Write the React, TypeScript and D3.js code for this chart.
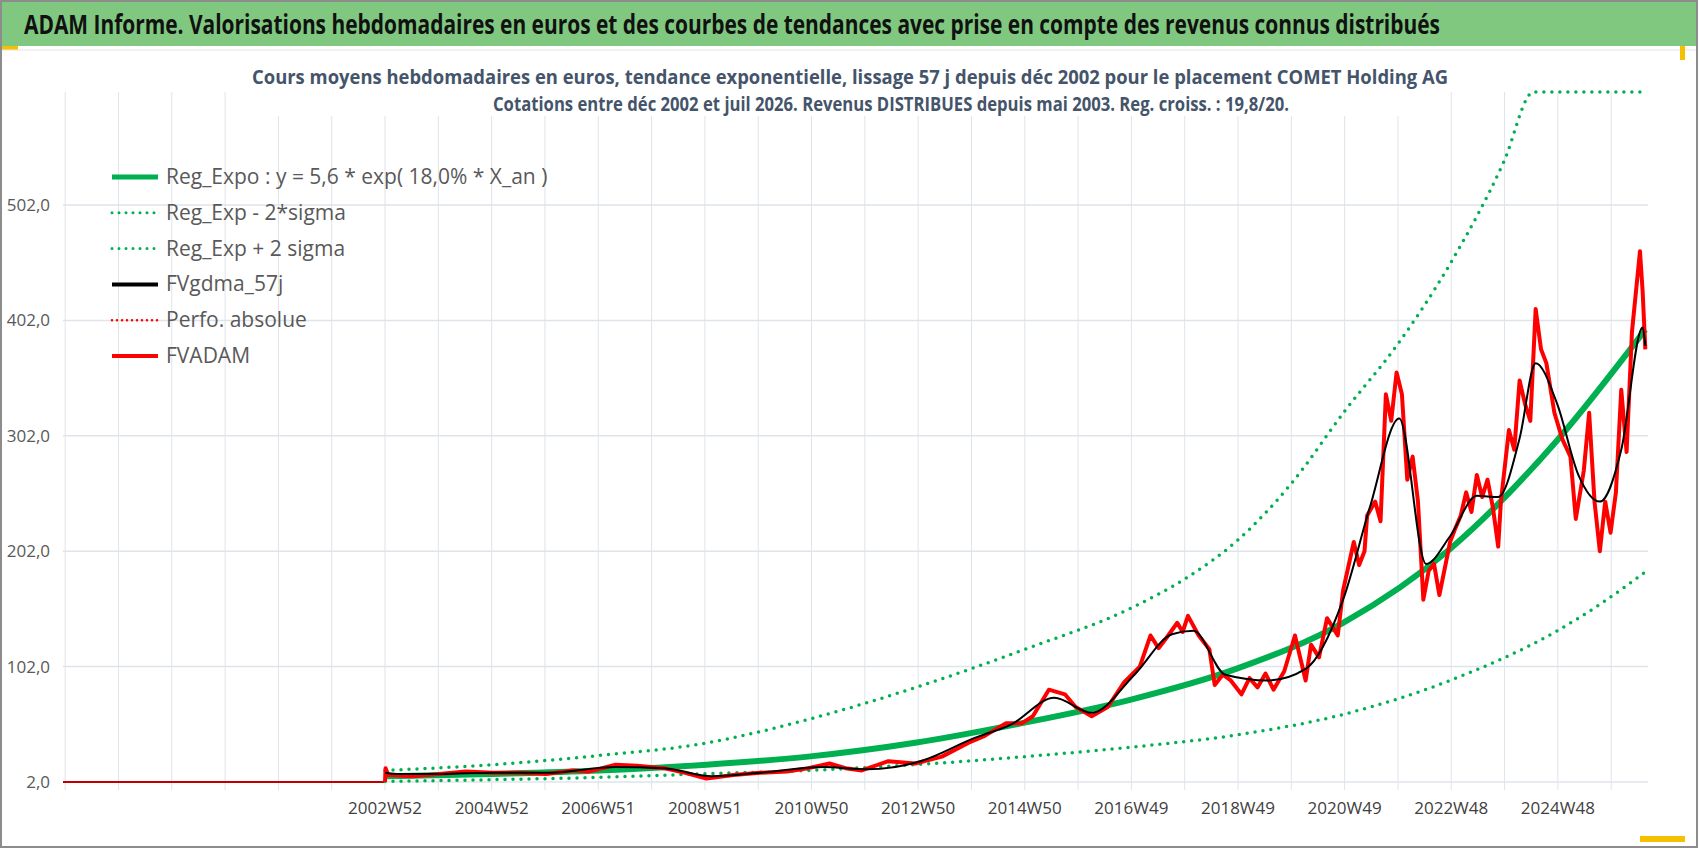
import * as d3 from 'd3'

// time in decimal years, values in euros
const redT = [2002.99, 2003.0, 2003.05, 2003.5, 2004.0, 2004.5, 2005.0, 2005.5, 2006.0, 2006.5, 2006.8, 2007.3, 2007.7, 2008.2, 2008.6, 2009.0, 2009.5, 2010.0, 2010.5, 2010.9, 2011.3, 2011.6, 2011.9, 2012.4, 2012.9, 2013.4, 2013.9, 2014.2, 2014.6, 2014.9, 2015.1, 2015.4, 2015.7, 2015.9, 2016.2, 2016.5, 2016.8, 2017.1, 2017.3, 2017.45, 2017.6, 2017.8, 2017.9, 2018.0, 2018.2, 2018.4, 2018.5, 2018.65, 2018.8, 2019.0, 2019.15, 2019.3, 2019.45, 2019.6, 2019.8, 2020.0, 2020.2, 2020.3, 2020.45, 2020.6, 2020.8, 2020.9, 2021.1, 2021.2, 2021.3, 2021.35, 2021.5, 2021.6, 2021.7, 2021.8, 2021.9, 2022.0, 2022.1, 2022.2, 2022.3, 2022.4, 2022.5, 2022.6, 2022.7, 2022.9, 2023.0, 2023.1, 2023.2, 2023.3, 2023.4, 2023.5, 2023.6, 2023.7, 2023.8, 2023.85, 2024.0, 2024.1, 2024.2, 2024.3, 2024.4, 2024.5, 2024.6, 2024.7, 2024.85, 2025.0, 2025.15, 2025.25, 2025.4, 2025.5, 2025.6, 2025.7, 2025.8, 2025.9, 2026.0, 2026.1, 2026.2, 2026.3, 2026.45, 2026.5, 2026.55]
const redV = [2, 14, 8, 7, 9, 11, 10, 10, 9, 12, 11, 17, 16, 14, 10, 5, 8, 10, 11, 14, 18, 14, 12, 20, 18, 24, 36, 42, 53, 53, 59, 82, 78, 67, 59, 67, 88, 102, 129, 118, 127, 140, 132, 146, 129, 117, 86, 95, 90, 78, 92, 84, 96, 82, 98, 129, 90, 121, 110, 144, 129, 168, 210, 190, 202, 233, 245, 228, 338, 315, 357, 338, 264, 284, 245, 160, 185, 191, 164, 210, 222, 233, 253, 236, 268, 249, 264, 240, 206, 245, 307, 290, 350, 330, 315, 412, 377, 365, 322, 299, 284, 230, 272, 322, 245, 202, 245, 218, 253, 342, 288, 392, 462, 427, 377]

const blackT = [2002.99, 2003.2, 2004.0, 2005.0, 2006.0, 2007.3, 2008.2, 2009.1, 2010.0, 2011.2, 2012.0, 2013.0, 2014.0, 2014.7, 2015.5, 2016.2, 2017.0, 2017.7, 2018.1, 2018.7, 2019.5, 2020.2, 2020.9, 2021.4, 2021.95, 2022.45, 2022.9, 2023.4, 2023.8, 2024.2, 2024.5, 2024.9, 2025.3, 2025.7, 2026.1, 2026.5, 2026.55]
const blackV = [10, 9, 9, 10, 10, 15, 14, 7, 10, 15, 13, 20, 40, 52, 75, 62, 95, 130, 133, 95, 90, 100, 160, 240, 317, 191, 215, 250, 249, 300, 365, 330, 268, 245, 290, 396, 380]

const regT = [2002.99, 2005.0, 2007.0, 2009.0, 2010.9, 2012.9, 2014.9, 2016.9, 2018.9, 2020.9, 2022.9, 2024.9, 2026.55]
const regV = [7, 9, 12, 17, 24, 36, 53, 73, 100, 140, 204, 298, 394]
const upperT = [2002.99, 2005.0, 2007.0, 2008.9, 2010.96, 2012.98, 2014.95, 2016.95, 2017.94, 2018.94, 2019.92, 2020.94, 2021.93, 2022.9, 2023.9, 2024.46, 2026.55]
const upperV = [12, 17, 25, 35, 57, 85, 117, 153, 178, 212, 260, 324, 382, 451, 539, 600, 600]
const lowerT = [2002.99, 2005.0, 2007.0, 2008.9, 2010.9, 2012.9, 2014.95, 2016.9, 2018.94, 2020.94, 2022.9, 2024.9, 2025.67, 2026.55]
const lowerV = [2.5, 4, 6, 9, 12, 17, 24, 32, 43, 61, 90, 133, 155, 184]
const perfoT = [1996.97, 2002.99]
const perfoV = [2, 2]

const xTickLabels = ['2002W52', '2004W52', '2006W51', '2008W51', '2010W50', '2012W50', '2014W50', '2016W49', '2018W49', '2020W49', '2022W48', '2024W48']
const yTicks = [2, 102, 202, 302, 402, 502]

const legendItems = [
  { label: 'Reg_Expo : y = 5,6 * exp( 18,0% *  X_an )', color: '#00b050', w: 5, dash: '' },
  { label: 'Reg_Exp - 2*sigma', color: '#00b050', w: 3, dash: '0 7' },
  { label: 'Reg_Exp + 2 sigma', color: '#00b050', w: 3, dash: '0 7' },
  { label: 'FVgdma_57j', color: '#000000', w: 4, dash: '' },
  { label: 'Perfo. absolue', color: '#ff0000', w: 2.5, dash: '0 5' },
  { label: 'FVADAM', color: '#ff0000', w: 4, dash: '' },
]

const W = 1698
const H = 848
const font = "'Liberation Sans Narrow', 'Open Sans', sans-serif"

export default function App() {
  const x = d3.scaleLinear().domain([1996.97, 2026.6]).range([63, 1648])
  const y = d3.scaleLinear().domain([2, 600]).range([782, 92])
  const line = d3.line<[number, number]>().x(d => x(d[0])).y(d => y(d[1]))
  const zip = (t: number[], v: number[]) => t.map((tt, i) => [tt, v[i]] as [number, number])
  const grid = d3.range(-6, 24).map(k => 2002.99 + k * 0.9966)
  const smooth = line.curve(d3.curveMonotoneX)
  const dotted = { fill: 'none', stroke: '#00b050', strokeWidth: 3.5, strokeDasharray: '0 8', strokeLinecap: 'round' as const }

  return (
    <svg width={W} height={H} style={{ position: 'absolute', left: 0, top: 0 }}>
      <rect x={0} y={0} width={W} height={H} fill="#fff" />
      <rect x={1} y={1} width={W - 2} height={H - 2} fill="none" stroke="#8c8c8c" strokeWidth={2} />
      <rect x={2} y={2} width={W - 4} height={44} fill="#80c880" />
      <text x={24} y={34} fontFamily={font} fontWeight="bold" fontSize={26} fill="#111"
        textLength={1416} lengthAdjust="spacingAndGlyphs">
        ADAM Informe. Valorisations hebdomadaires en euros et des courbes de tendances avec prise en compte des revenus connus distribués
      </text>
      <rect x={2} y={46} width={16} height={4} fill="#f5c000" />
      <line x1={2} y1={50} x2={W - 2} y2={50} stroke="#e5e5e5" />
      <rect x={1680} y={46} width={5} height={14} fill="#f5c000" />
      <rect x={1640} y={836} width={45} height={6} fill="#f5c000" />

      {grid.map((g, i) => (
        <line key={i} x1={x(g)} x2={x(g)} y1={92} y2={790} stroke="#dfe3ea" />
      ))}
      {yTicks.map(t => (
        <g key={t}>
          <line x1={63} x2={1648} y1={y(t)} y2={y(t)} stroke="#dfe3ea" strokeWidth={1.5} />
          <text x={50} y={y(t) + 6} textAnchor="end" fontFamily={font} fontSize={17} fill="#595959">
            {t.toFixed(1).replace('.', ',')}
          </text>
        </g>
      ))}
      {xTickLabels.map((l, i) => (
        <text key={l} x={x(2002.99 + i * 2 * 0.9966)} y={814} textAnchor="middle" fontFamily={font} fontSize={17} fill="#404040">{l}</text>
      ))}

      <rect x={245} y={62} width={1205} height={54} fill="#fff" />
      <text x={850} y={84} textAnchor="middle" fontFamily={font} fontWeight="bold" fontSize={20} fill="#44546a"
        textLength={1196} lengthAdjust="spacingAndGlyphs">
        Cours moyens hebdomadaires en euros, tendance exponentielle, lissage 57 j depuis déc 2002 pour le placement COMET Holding AG
      </text>
      <text x={891} y={111} textAnchor="middle" fontFamily={font} fontWeight="bold" fontSize={20} fill="#44546a"
        textLength={796} lengthAdjust="spacingAndGlyphs">
        Cotations entre déc 2002 et juil 2026. Revenus DISTRIBUES depuis mai 2003. Reg. croiss. : 19,8/20.
      </text>

      <path d={line(zip(perfoT, perfoV)) || ''} fill="none" stroke="#c00000" strokeWidth={2} />
      <path d={smooth(zip(lowerT, lowerV)) || ''} {...dotted} />
      <path d={smooth(zip(upperT, upperV)) || ''} {...dotted} />
      <path d={smooth(zip(regT, regV)) || ''} fill="none" stroke="#00b050" strokeWidth={6} />
      <path d={line.curve(d3.curveLinear)(zip(redT, redV)) || ''} fill="none" stroke="#ff0000" strokeWidth={4} strokeLinejoin="round" />
      <path d={line.curve(d3.curveMonotoneX)(zip(blackT, blackV)) || ''} fill="none" stroke="#000" strokeWidth={2} />

      {legendItems.map((it, i) => {
        const ly = 177 + i * 35.8
        return (
          <g key={it.label}>
            <line x1={112} x2={158} y1={ly} y2={ly} stroke={it.color} strokeWidth={it.w}
              strokeDasharray={it.dash || undefined} strokeLinecap={it.dash ? 'round' : 'butt'} />
            <text x={166} y={ly + 7} fontFamily={font} fontSize={21} fill="#595959">{it.label}</text>
          </g>
        )
      })}
    </svg>
  )
}
